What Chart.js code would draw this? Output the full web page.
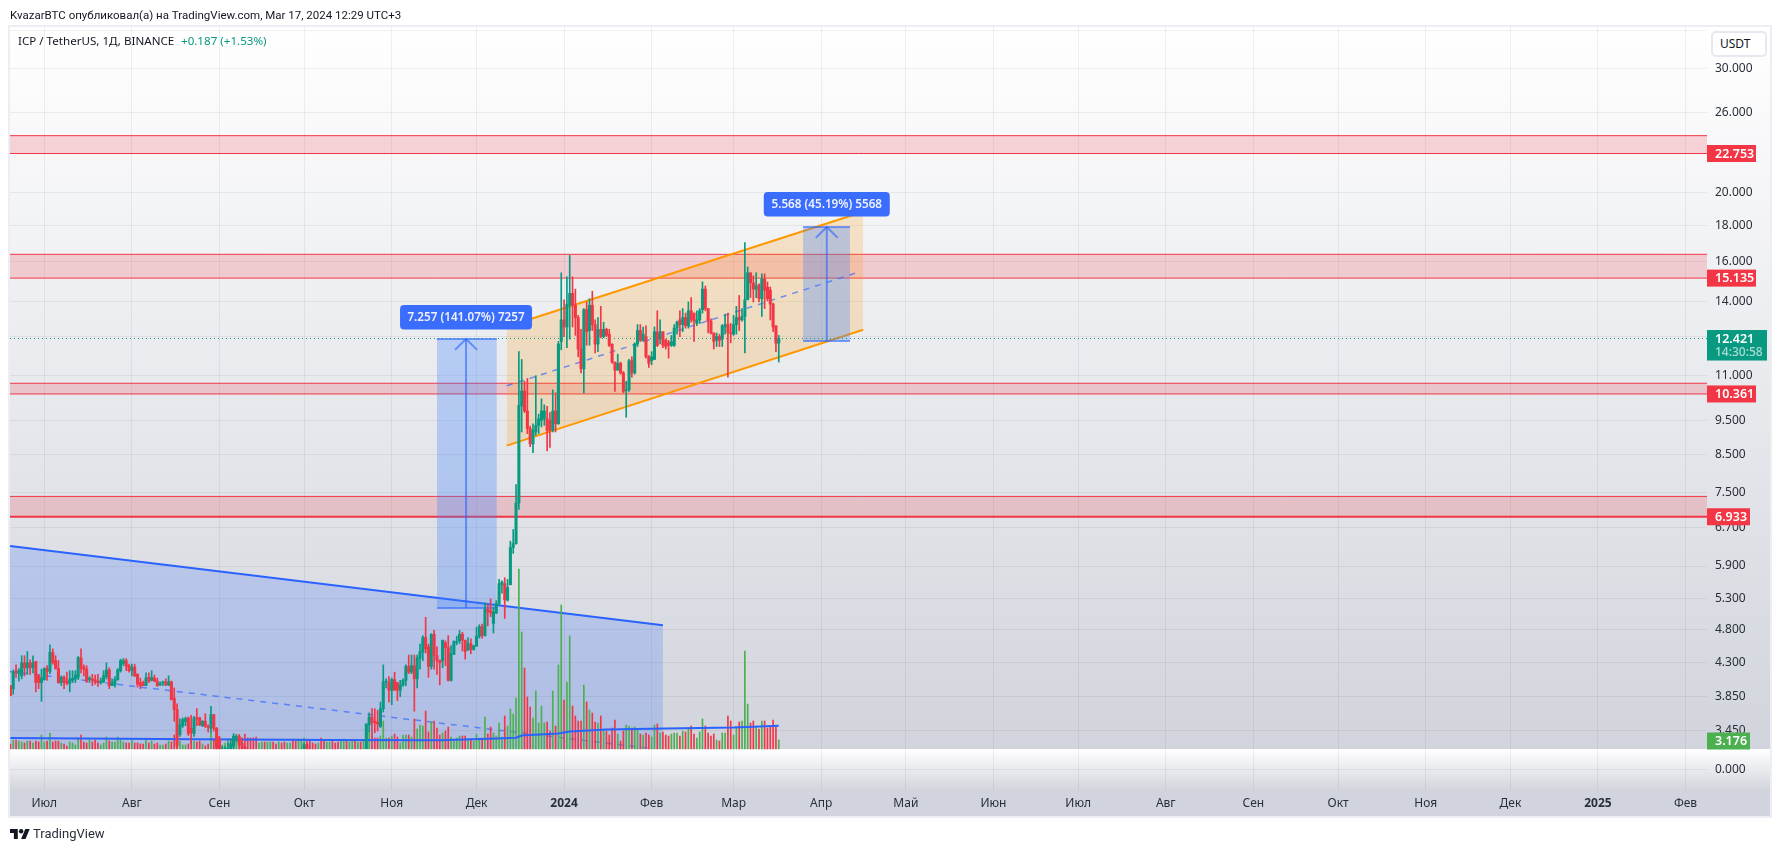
<!DOCTYPE html>
<html><head><meta charset="utf-8"><title>ICP / TetherUS</title>
<script src="https://cdn.jsdelivr.net/npm/chart.js@4/dist/chart.umd.js"></script>
<style>
html,body{margin:0;padding:0;background:#fff;overflow:hidden}
body{width:1781px;height:852px;position:relative;font-family:"Noto Sans",sans-serif;color:#131722}
canvas{position:absolute;left:0;top:0}
.t{position:absolute;white-space:nowrap;font-size:11.6px;line-height:16px}
#btn{position:absolute;left:1711px;top:31px;width:52px;height:22px;border:2px solid #e6e8ef;border-radius:5px;background:#fff;font-size:12px;line-height:22px;text-indent:7px;color:#131722}
</style></head><body>
<canvas id="c" width="1781" height="852" style="width:1781px;height:852px"></canvas>
<div class="t" style="left:10px;top:7px;font-family:Roboto,sans-serif;font-size:11.5px">KvazarBTC опубликовал(а) на TradingView.com, Mar 17, 2024 12:29 UTC+3</div>
<div class="t" style="left:18px;top:33px">ICP / TetherUS, 1Д, BINANCE</div>
<div class="t" style="left:181px;top:33px;color:#089981">+0.187 (+1.53%)</div>
<div id="btn">USDT</div>
<svg style="position:absolute;left:10px;top:829px" width="20" height="10" viewBox="0 4 36 18"><path fill="#131722" d="M14 22H7V11H0V4h14v18zM28 22h-8l7.5-18h8L28 22z"/><circle fill="#131722" cx="20" cy="8" r="4"/></svg>
<div class="t" style="left:33px;top:825px;font-family:Roboto,sans-serif;font-size:13px;line-height:18px;color:#2a2e39">TradingView</div>
<script>
// ---------- values ----------
const firstDay = -12; // days relative to 2023-07-01
const ohlcSummer = [ // [open, high, low, close]
[3.99,3.99,3.86,3.86],[3.95,4.20,3.88,4.17],[4.19,4.27,4.10,4.16],[4.15,4.22,4.05,4.19],[4.12,4.40,4.08,4.30],[4.30,4.40,4.12,4.23],[4.23,4.46,4.14,4.30],[4.30,4.34,4.14,4.23],[4.23,4.40,4.16,4.30],[4.32,4.32,3.91,4.03],[4.12,4.14,3.95,4.03],[4.03,4.21,3.79,4.09],
[4.07,4.23,4.06,4.22],[4.22,4.26,4.06,4.18],[4.18,4.56,4.15,4.45],[4.45,4.50,4.28,4.30],[4.33,4.40,4.21,4.22],[4.22,4.33,4.02,4.03],[4.03,4.12,3.99,4.10],[4.10,4.12,3.95,4.03],[4.05,4.17,4.00,4.02],[4.02,4.19,3.91,4.07],
[4.06,4.19,4.03,4.08],[4.08,4.19,4.03,4.13],[4.10,4.39,4.07,4.37],[4.37,4.50,4.16,4.22],[4.24,4.27,4.12,4.21],[4.21,4.26,4.03,4.05],[4.07,4.11,4.03,4.09],[4.08,4.14,3.99,4.06],[4.07,4.13,4.01,4.05],[4.05,4.14,3.98,4.03],
[4.03,4.09,4.01,4.05],[4.04,4.19,4.03,4.12],[4.11,4.30,4.08,4.20],[4.20,4.23,3.95,3.99],[3.99,4.08,3.99,4.03],[4.00,4.11,3.97,4.07],[4.07,4.22,4.06,4.20],[4.19,4.35,4.17,4.33],[4.29,4.36,4.26,4.33],[4.33,4.36,4.19,4.25],
[4.26,4.28,4.17,4.19],[4.19,4.28,4.12,4.24],[4.24,4.28,4.11,4.12],[4.14,4.15,3.97,4.01],[4.03,4.09,3.95,3.99],[4.03,4.05,3.99,3.99],[3.99,4.16,3.99,4.09],[4.10,4.16,4.03,4.05],[4.06,4.19,4.05,4.10],[4.09,4.13,4.04,4.05],
[4.05,4.09,3.98,3.99],[4.00,4.04,3.99,4.02],[4.03,4.05,3.99,4.04],[4.04,4.08,3.99,4.00],[4.00,4.12,3.99,4.04],[4.04,4.05,3.81,3.81],[3.83,3.96,3.55,3.69],[3.69,3.76,3.20,3.28],[3.40,3.58,3.38,3.51],[3.50,3.59,3.48,3.57],
[3.55,3.60,3.50,3.58],[3.59,3.60,3.39,3.41],[3.47,3.62,3.30,3.42],[3.41,3.61,3.38,3.59],[3.59,3.70,3.50,3.58],[3.59,3.60,3.50,3.51],[3.50,3.56,3.49,3.55],[3.55,3.64,3.48,3.49],[3.49,3.51,3.43,3.48]];
const ohlcAutumn = [
[3.47,3.73,3.42,3.63],[3.63,3.63,3.44,3.47],[3.47,3.48,3.15,3.25],[3.35,3.38,3.10,3.20],[3.15,3.27,3.10,3.24],[3.18,3.27,3.12,3.25],[3.20,3.31,3.15,3.25],[3.25,3.35,3.20,3.30],[3.27,3.41,3.22,3.38],[3.37,3.40,3.32,3.38],[3.38,3.40,3.27,3.29],[3.30,3.36,3.18,3.25],[3.26,3.28,3.15,3.20],
[3.20,3.22,3.10,3.15],[3.15,3.19,3.08,3.12],[3.12,3.17,3.06,3.10],[3.10,3.14,3.03,3.05],[3.05,3.12,3.02,3.09],[3.09,3.15,3.05,3.12],[3.12,3.16,3.07,3.08],[3.08,3.13,3.04,3.10],[3.10,3.18,3.08,3.15],[3.15,3.20,3.09,3.11],[3.11,3.14,3.04,3.06],[3.06,3.11,3.02,3.09],[3.09,3.13,3.05,3.07],[3.07,3.12,3.02,3.04],[3.04,3.10,3.00,3.08],[3.08,3.15,3.06,3.13],[3.13,3.18,3.09,3.10],[3.10,3.14,3.05,3.06],[3.06,3.16,3.04,3.14],[3.14,3.21,3.10,3.20],
[3.20,3.31,3.15,3.29],[3.29,3.31,3.15,3.20],
[3.20,3.22,3.10,3.12],[3.12,3.15,3.06,3.08],[3.08,3.12,3.03,3.05],[3.05,3.09,3.00,3.07],[3.07,3.12,3.03,3.04],[3.04,3.08,2.98,3.00],[3.00,3.06,2.96,3.03],[3.03,3.09,3.00,3.06],[3.06,3.10,3.01,3.02],[3.02,3.05,2.97,3.00],[3.00,3.04,2.95,2.98],[2.98,3.03,2.94,3.01],[3.01,3.07,2.98,3.05],[3.05,3.11,3.02,3.04],[3.04,3.08,3.00,3.06],[3.06,3.13,3.03,3.10],[3.10,3.15,3.05,3.07],[3.07,3.12,3.04,3.09],[3.09,3.14,3.06,3.08],[3.08,3.15,3.05,3.10],
[3.10,3.52,3.05,3.52],[3.51,3.65,3.43,3.60],[3.60,3.70,3.37,3.54],[3.55,3.70,3.42,3.53],[3.54,3.68,3.44,3.52],[3.49,3.78,3.48,3.70],[3.70,4.27,3.66,4.04],[4.04,4.08,3.96,4.05],[4.03,4.11,3.78,3.93],[3.93,4.09,3.75,4.07],[4.07,4.17,3.93,3.93],[4.03,4.03,3.80,3.93]];
const ohlcNovember = [
[3.93,4.06,3.85,4.00],[4.00,4.08,3.98,4.06],[4.06,4.27,3.99,4.25],[4.25,4.41,4.15,4.17],[4.17,4.41,4.15,4.26],[4.26,4.41,3.67,4.08],[4.08,4.41,3.96,4.37],[4.36,4.57,4.21,4.46],[4.45,4.70,4.33,4.67],[4.67,4.99,4.44,4.50],[4.53,4.57,4.10,4.25],[4.25,4.73,4.21,4.72],[4.72,4.78,4.21,4.40],[4.40,4.53,4.14,4.33],
[4.33,4.34,4.00,4.30],[4.33,4.63,4.23,4.63],[4.59,4.62,4.26,4.52],[4.52,4.70,4.05,4.06],[4.06,4.55,4.05,4.43],[4.42,4.62,4.42,4.61],[4.60,4.69,4.56,4.61],[4.62,4.78,4.58,4.72],[4.72,4.75,4.47,4.63],[4.63,4.63,4.35,4.46],[4.48,4.67,4.48,4.58],[4.58,4.65,4.43,4.49],[4.49,4.55,4.48,4.55],[4.54,4.83,4.54,4.69],
[4.69,4.87,4.66,4.84],[4.84,4.88,4.66,4.70],[4.70,5.23,4.69,5.12],[5.12,5.20,4.85,5.08],[5.10,5.30,5.00,5.06],[4.89,5.15,4.74,5.08],[5.06,5.27,5.05,5.22],[5.22,5.65,5.20,5.57],[5.55,5.62,5.40,5.60],[5.57,5.68,4.97,5.28],[5.28,5.65,5.26,5.50],[5.55,6.40,5.55,6.27],[6.27,6.65,6.15,6.35],[6.35,7.70,6.34,7.25]];
const ohlcWinter = [
[7.25,11.90,7.10,9.98],[9.96,11.60,9.15,10.46],[10.46,10.80,9.75,9.80],[9.80,10.90,9.10,9.25],[9.25,9.33,8.72,8.80],[8.80,9.40,8.55,9.20],[9.15,11.00,9.05,9.35],[9.35,9.70,9.10,9.55],[9.50,10.20,9.30,9.80],[9.55,10.00,9.35,9.80],
[9.55,9.95,8.60,9.20],[9.50,9.75,8.70,9.20],[9.20,10.50,9.15,9.80],[9.80,10.40,9.15,9.40],[9.40,12.30,9.38,12.20],[12.30,15.40,11.97,13.20],[13.20,14.10,12.50,12.90],[12.90,15.20,12.05,13.90],[13.85,16.30,12.40,14.40],[14.40,15.20,12.90,13.85],
[13.85,14.60,12.55,13.30],[13.30,13.40,11.70,12.00],[12.00,12.80,11.10,11.25],[11.25,13.70,10.40,13.65],[13.65,14.00,12.15,12.70],[12.75,14.15,12.15,13.85],[13.85,14.50,12.75,13.00],[13.00,13.20,11.85,12.20],[12.20,13.30,11.90,12.80],[12.80,13.80,12.45,12.50],
[12.50,13.10,12.45,12.80],[12.80,12.85,12.50,12.55],[12.60,12.80,12.10,12.15],[12.20,12.20,11.45,11.50],[11.50,11.50,10.45,11.20],[11.20,11.80,11.20,11.45],[11.45,11.50,11.05,11.10],[11.10,11.15,10.40,10.45],[10.48,10.80,9.60,10.50],[10.50,11.60,10.45,11.55],
[11.55,11.70,10.95,11.10],[11.10,12.25,11.05,12.20],[12.20,13.00,12.10,12.75],[12.75,13.00,12.30,12.35],[12.35,12.90,12.30,12.60],[12.50,12.95,11.65,11.70],[11.70,11.75,11.30,11.45],[11.55,11.90,11.40,11.70],[11.60,12.90,11.60,12.70],[12.70,13.60,12.10,12.15],
[12.40,13.20,12.20,12.70],[12.70,12.70,12.05,12.15],[12.35,12.40,12.00,12.10],[12.25,12.35,11.65,12.15],[12.15,12.55,12.10,12.30],[12.15,13.00,12.10,12.85],[12.85,13.15,12.60,13.10],[13.20,13.60,12.50,13.00],[13.00,13.70,12.70,13.30],[13.30,13.50,12.85,12.95],
[12.95,14.00,12.85,13.60],[13.60,14.20,13.10,13.20],[13.50,13.50,12.30,13.15],[13.05,13.60,12.95,13.20],[13.20,13.70,13.05,13.60],[13.65,14.95,13.50,14.60],[14.60,14.75,13.60,13.70],[13.70,13.70,12.65,13.15],[13.15,13.25,12.60,12.65],[12.65,12.65,12.00,12.30],
[12.35,12.65,12.10,12.50],[12.50,12.60,12.10,12.35],[12.40,13.00,12.10,12.95],[12.90,13.45,12.60,13.00],[13.00,13.50,10.95,12.65],[12.65,13.05,12.25,12.62],[12.60,13.40,12.55,13.00],[13.00,13.80,12.60,13.30],[13.30,14.30,12.75,13.20],[13.20,13.70,13.15,13.35],
[13.35,17.00,11.85,14.10],[14.10,15.70,14.10,15.40],[15.40,15.40,14.20,14.90],[14.90,15.25,14.00,14.60],[14.60,15.40,14.20,14.75],[14.80,14.85,14.00,14.15],[14.15,15.35,13.35,15.10],[15.10,15.35,13.70,14.55],[14.70,14.95,14.05,14.15],[14.55,14.70,13.20,13.90],
[13.90,13.95,12.70,12.90],[12.95,12.95,11.90,12.234],[12.234,12.55,11.50,12.421]];
const volSummer = [50,90,90,80,70,60,80,80,60,80,70,140,70,80,160,70,80,80,60,50,30,70,60,40,110,140,70,60,90,70,90,60,40,60,120,80,70,70,120,90,70,60,60,90,60,60,50,50,90,60,80,50,60,40,40,50,80,70,140,120,80,40,40,50,80,80,70,80,50,30,50];
const volAutumn = [160,100,140,120,40,60,90,50,130,140,130,110,150,110,110,110,120,60,70,70,70,70,70,50,70,60,70,60,60,100,80,100,90,110,80,90,60,50,60,110,80,70,70,80,60,70,90,100,80,70,80,90,70,70,90,180,180,130,110,110,130,280,110,110,130,150,120];
const volNovember = [60,140,140,140,120,300,200,240,230,380,170,270,280,210,140,160,180,220,120,100,110,130,130,130,100,100,80,150,100,110,320,150,220,160,130,260,120,330,230,400,350,510];
const volWinter = [1800,1170,810,520,420,310,580,260,430,260,270,180,580,230,840,1440,490,670,1130,430,330,280,280,640,470,390,360,270,260,330,190,180,140,210,290,150,80,180,240,230,210,220,200,150,140,160,140,120,240,250,160,170,140,130,150,160,160,130,180,170,210,230,150,110,170,300,230,160,130,150,90,80,160,160,330,280,140,220,270,280,980,450,260,280,220,200,280,280,210,220,290,220,90];
const volMaDays = [-12,40,100,140,160,167,169,172,182,186,199,220,244,260];
const volMaValues = [110,100,90,87,105,113,135,140,155,175,195,205,215,233];

const priceTicks = [34,30,26,20,18,16,14,12.5,11,9.5,8.5,7.5,6.7,5.9,5.3,4.8,4.3,3.85,3.45];
const unlabelledPrices = [34,12.5];
const monthDays = [0,31,62,92,123,153,184,215,244,275,305,336,366,397,428,458,489,519,550,581];
const monthLabels = ['Июл','Авг','Сен','Окт','Ноя','Дек','2024','Фев','Мар','Апр','Май','Июн','Июл','Авг','Сен','Окт','Ноя','Дек','2025','Фев'];
const yearDays = [184,550];

const zoneTops = [24.12,16.36,10.73,7.41];
const zoneBottoms = [22.753,15.135,10.361,6.933];
const lastPrice = 12.421;
const volumePrice = 3.176;
const channelDays = [163.7,289.9];
const channelTop = [12.91,18.81];
const channelBottom = [8.75,12.78];
const channelMidDays = [163.7,288];
const channelMid = [10.64,15.42];
const wedgeDays = [-12.14,219];
const wedgeTop = [6.30,4.86];
const wedgeMidDays = [-12.14,214.4];
const wedgeMid = [4.18,3.25];
const longDays = [[139,160.2],[268.6,285.2]];
const longFrom = [5.144,12.321];
const longTo = [12.401,17.889];
const arrowDays = [149.3,277];
const longLabels = ['7.257 (141.07%) 7257','5.568 (45.19%) 5568'];

const xMin = -12.14, xMax = 588.6, yMin = 3.243, yMax = 34.53;
const GREEN='#089981', RED='#f23645', VGREEN='#4caf50', BLUE='#2962ff', ORANGE='#ff9800';
const FONT='"Noto Sans",sans-serif';

// ---------- datasets ----------
const ohlc = [...ohlcSummer,...ohlcAutumn,...ohlcNovember,...ohlcWinter];
const volumes = [...volSummer,...volAutumn,...volNovember,...volWinter];
const days = ohlc.map((_,i)=>firstDay+i);
const line = (xs,ys,color,width,order,extra={}) => ({type:'line',yAxisID:'y',order,
  data:xs.map((x,i)=>({x,y:ys[i]})),borderColor:color,borderWidth:width,pointRadius:0,tension:0,fill:false,borderCapStyle:'butt',...extra});
const ds = [];
zoneTops.forEach((t,i)=>{
  ds.push(line([xMin,xMax],[t,t],RED,1,60,{fill:'+1',backgroundColor:'rgba(242,54,69,0.2)'}));
  ds.push(line([xMin,xMax],[zoneBottoms[i],zoneBottoms[i]],RED,i===3?2:1,60));
});
ds.push(line(wedgeDays,wedgeTop,BLUE,2,55,{fill:'+1',backgroundColor:'rgba(41,98,255,0.2)'}));
ds.push(line(wedgeDays,[yMin,yMin],'rgba(0,0,0,0)',0,55));
ds.push(line(wedgeMidDays,wedgeMid,'rgba(41,98,255,0.65)',1.5,54,{borderDash:[6,6]}));
ds.push(line(channelDays,channelTop,ORANGE,2,50,{fill:'+1',backgroundColor:'rgba(255,152,0,0.2)'}));
ds.push(line(channelDays,channelBottom,ORANGE,2,50));
ds.push(line(channelMidDays,channelMid,'rgba(41,98,255,0.65)',1.5,49,{borderDash:[6,6]}));
longDays.forEach((d,i)=>{
  ds.push(line(d,[longTo[i],longTo[i]],'rgba(41,98,255,0.6)',2,45,{fill:'+1',backgroundColor:'rgba(60,130,255,0.3)'}));
  ds.push(line(d,[longFrom[i],longFrom[i]],'rgba(41,98,255,0.6)',2,45));
  ds.push(line([arrowDays[i],arrowDays[i]],[longFrom[i],longTo[i]],'rgba(41,98,255,0.6)',2,44));
  const back = longTo[i]*0.965;
  ds.push(line([arrowDays[i]-3.9,arrowDays[i],arrowDays[i]+3.9],[back,longTo[i],back],'rgba(41,98,255,0.6)',2,44));
});
ds.push(line([xMin,xMax],[lastPrice,lastPrice],GREEN,1,43,{borderDash:[1,3]}));
const up = i => ohlc[i][3]>=ohlc[i][0];
ds.push({type:'bar',yAxisID:'yV',order:30,grouped:false,barThickness:1,
  data:days.map((x,i)=>({x,y:volumes[i]})),backgroundColor:c=>up(c.dataIndex)?VGREEN:RED});
ds.push(line(volMaDays,volMaValues,BLUE,2,25,{yAxisID:'yV'}));
ds.push({type:'bar',yAxisID:'y',order:20,grouped:false,barThickness:1,
  data:days.map((x,i)=>({x,y:[ohlc[i][2],ohlc[i][1]]})),backgroundColor:c=>up(c.dataIndex)?GREEN:RED});
ds.push({type:'bar',yAxisID:'y',order:15,grouped:false,barThickness:2.4,
  data:days.map((x,i)=>({x,y:[ohlc[i][0],ohlc[i][3]]})),backgroundColor:c=>up(c.dataIndex)?GREEN:RED});

const priceTags = [
  {value:zoneBottoms[0],color:RED,w:49},{value:zoneBottoms[1],color:RED,w:49},
  {value:zoneBottoms[2],color:RED,w:49},{value:zoneBottoms[3],color:RED,w:43},
  {value:volumePrice,color:VGREEN,w:43}];

const decor = {id:'decor',
  beforeDraw(ch){
    const c=ch.ctx, split=ch.scales.y.bottom, l=9, r=1771, top=26, bot=817;
    c.save();
    let g=c.createLinearGradient(0,top,0,split); g.addColorStop(0,'#ffffff'); g.addColorStop(1,'#d1d4dc');
    c.fillStyle=g; c.fillRect(l,top,r-l,split-top);
    g=c.createLinearGradient(0,split,0,bot); g.addColorStop(0,'#ffffff'); g.addColorStop(0.62,'#d1d4dc'); g.addColorStop(1,'#d1d4dc');
    c.fillStyle=g; c.fillRect(l,split,r-l,bot-split);
    c.strokeStyle='#eceef3'; c.lineWidth=2; c.strokeRect(l,top,r-l,bot-top);
    c.restore();
  },
  afterDatasetsDraw(ch){
    const c=ch.ctx,{x,y}=ch.scales;
    c.save(); c.font='600 11.7px '+FONT; c.textAlign='center'; c.textBaseline='middle';
    longLabels.forEach((t,i)=>{
      const cx=x.getPixelForValue(arrowDays[i]), top=y.getPixelForValue(longTo[i]);
      const w=i===0?132:126, h=24.5, by=top-(i===0?34:35);
      c.fillStyle='#3a6dfb'; c.beginPath(); c.roundRect(cx-w/2,by,w,h,4); c.fill();
      c.fillStyle='#eef2ff'; c.fillText(t,cx,by+h/2);
    });
    c.restore();
  },
  afterDraw(ch){
    const c=ch.ctx,{y}=ch.scales, L=y.left;
    c.save(); c.textBaseline='middle'; c.textAlign='left';
    priceTags.forEach(t=>{
      const py=Math.min(y.getPixelForValue(t.value),y.bottom-8);
      c.fillStyle=t.color; c.fillRect(L,py-8.5,t.w,17);
      c.fillStyle='#fff'; c.font='600 12.5px '+FONT; c.fillText(t.value.toFixed(3),L+8,py+0.5);
    });
    const py=y.getPixelForValue(lastPrice);
    c.fillStyle=GREEN; c.fillRect(L,py-8.5,60,30.5);
    c.fillStyle='#fff'; c.font='600 12.5px '+FONT; c.fillText(lastPrice.toFixed(3),L+8,py+0.5);
    c.fillStyle='rgba(255,255,255,0.65)'; c.font='500 12px '+FONT; c.fillText('14:30:58',L+8,py+14.5);
    c.restore();
  }};

new Chart(document.getElementById('c'),{
  type:'bar',
  data:{datasets:ds},
  plugins:[decor],
  options:{responsive:false,animation:false,devicePixelRatio:1,
    layout:{padding:{left:10,right:10,top:26,bottom:36}},
    plugins:{legend:{display:false},tooltip:{enabled:false},title:{display:false}},
    events:[],
    scales:{
      x:{type:'linear',min:xMin,max:xMax,offset:false,position:'bottom',
        grid:{offset:false,color:'rgba(42,46,57,0.07)',drawTicks:false},border:{display:false},
        afterBuildTicks:s=>{s.ticks=monthDays.map(v=>({value:v}));},
        afterFit:s=>{s.height=26;},
        ticks:{autoSkip:false,maxRotation:0,padding:6,color:'#2a2e39',
          font:c=>({family:FONT,size:12,weight:yearDays.includes(c.tick&&c.tick.value)?'700':'400'}),
          callback:v=>monthLabels[monthDays.indexOf(v)]}},
      y:{type:'logarithmic',min:yMin,max:yMax,position:'right',stack:'p',stackWeight:723,
        grid:{color:'rgba(42,46,57,0.07)',drawTicks:false},border:{display:false},
        afterBuildTicks:s=>{s.ticks=priceTicks.map(v=>({value:v}));},
        afterFit:s=>{s.width=64;},
        ticks:{autoSkip:false,padding:8,color:'#2a2e39',font:{family:FONT,size:12},
          callback:v=>unlabelledPrices.includes(v)?'':v.toFixed(3)}},
      y0:{type:'linear',min:-1,max:1,position:'right',stack:'p',stackWeight:41,
        grid:{color:'rgba(42,46,57,0.07)',drawTicks:false},border:{display:false},
        afterBuildTicks:s=>{s.ticks=[{value:0}];},
        afterFit:s=>{s.width=64;},
        ticks:{autoSkip:false,padding:8,color:'#2a2e39',font:{family:FONT,size:12},callback:v=>v.toFixed(3)}},
      yV:{type:'linear',min:-410,max:7230,display:false,position:'left'}
    }}
});
</script>
</body></html>
